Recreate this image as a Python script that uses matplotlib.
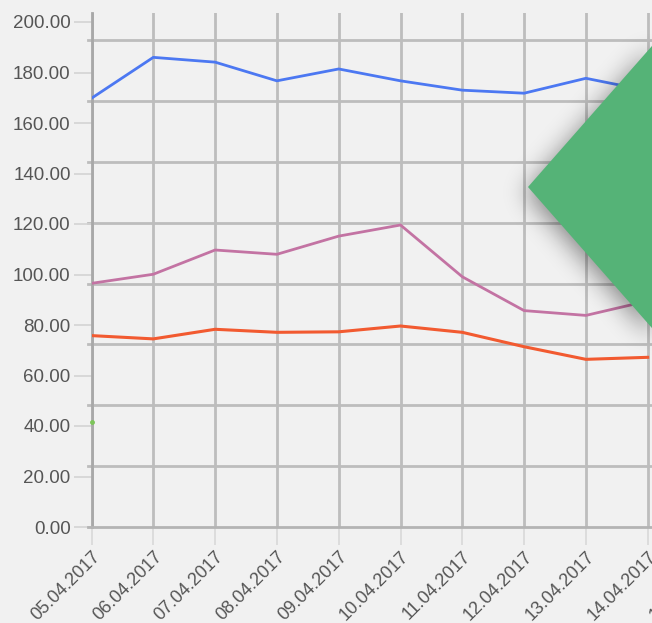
import matplotlib
matplotlib.use("Agg")
import matplotlib.pyplot as plt
from matplotlib.patches import Polygon
import numpy as np

# values
DATES = ["05.04.2017", "06.04.2017", "07.04.2017", "08.04.2017", "09.04.2017",
         "10.04.2017", "11.04.2017", "12.04.2017", "13.04.2017", "14.04.2017",
         "15.04.2017"]
BLUE = [169.8, 186.0, 184.1, 176.7, 181.4, 176.7, 173.0, 171.8, 177.7, 172.8]
PINK = [96.5, 100.1, 109.7, 108.0, 115.2, 119.6, 99.1, 85.7, 83.8, 89.5]
RED = [75.8, 74.5, 78.3, 77.1, 77.3, 79.6, 77.1, 71.4, 66.4, 67.2]
GREEN = [41.6]
Y_TICKS = [0, 20, 40, 60, 80, 100, 120, 140, 160, 180, 200]
H_GRID = [24.1, 48.2, 72.3, 96.4, 120.5, 144.6, 168.7, 192.8]

BG = "#f1f1f1"
GRID = "#bdbdbd"
TEXT = "#555555"

W, H = 652, 623
fig = plt.figure(figsize=(W / 100, H / 100), dpi=100, facecolor=BG)

# axes placed in pixel terms, running past the right edge (chart is cropped)
left, bottom, top = 91.5, 527, 13
x_step = 61.8
n_vis = 10.2
ax = fig.add_axes([left / W, 1 - bottom / H, n_vis * x_step / W, (bottom - top) / H])
ax.set_facecolor(BG)
ax.set_xlim(0, n_vis)
ax.set_ylim(0, 200 * (bottom - top) / (bottom - 22))

xs = list(range(len(DATES)))

for y in H_GRID:
    ax.plot([-0.06, n_vis], [y, y], color=GRID, lw=2, clip_on=False, zorder=1)
for x in xs:
    ax.axvline(x, color=GRID, lw=2, zorder=1)

ax.plot(xs[:len(BLUE)], BLUE, color="#4c78f2", lw=2, zorder=3)
ax.plot(xs[:len(PINK)], PINK, color="#c373a3", lw=2, zorder=3)
ax.plot(xs[:len(RED)], RED, color="#f25a30", lw=2.2, zorder=3)
ax.plot(xs[:len(GREEN)], GREEN, "o", color="#7dc55a", ms=2.5, zorder=3, clip_on=False)

for s in ["top", "right"]:
    ax.spines[s].set_visible(False)
ax.spines["left"].set_color("#a8a8a8")
ax.spines["left"].set_linewidth(2)
ax.spines["bottom"].set_color("#b4b4b4")
ax.spines["bottom"].set_linewidth(2)
ax.spines["bottom"].set_bounds(-0.06, n_vis)

ax.set_yticks(Y_TICKS)
ax.set_yticklabels([f"{v:.2f}" for v in Y_TICKS])
ax.set_xticks(xs)
ax.set_xticklabels(DATES)
ax.tick_params(axis="y", length=13, width=1.2, color="#d4d4d4", pad=2,
               labelsize=13.5, labelcolor=TEXT)
ax.tick_params(axis="x", length=13, width=1.2, color="#d8d8d8", pad=2,
               labelsize=13, labelcolor=TEXT)
for lab in ax.get_yticklabels() + ax.get_xticklabels():
    lab.set_family("Liberation Sans")
for lab in ax.get_xticklabels():
    lab.set_rotation(45)
    lab.set_ha("right")
    lab.set_va("top")
    lab.set_rotation_mode("anchor")

# green diamond overlay, in figure pixel space
cx, cy, hw, hh = 528 + 160, 187, 160, 182

# soft shadow: blurred diamond mask drawn as an image under the diamond
yy, xx = np.mgrid[0:H, 0:W].astype(float)
sx, sy = -3, 5
mask = (np.abs(xx - cx - sx) / hw + np.abs(yy - cy - sy) / hh <= 1).astype(float)
sig = 12
kx = np.arange(-3 * sig, 3 * sig + 1)
kern = np.exp(-0.5 * (kx / sig) ** 2)
kern /= kern.sum()
blur = np.apply_along_axis(lambda r: np.convolve(r, kern, mode="same"), 1, mask)
blur = np.apply_along_axis(lambda c: np.convolve(c, kern, mode="same"), 0, blur)
shadow = np.zeros((H, W, 4))
shadow[..., 3] = blur * 0.45
fig.figimage(shadow, xo=0, yo=0, origin="upper", zorder=10)


def px(x, y):
    return (x / W, 1 - y / H)


diamond = [px(cx - hw, cy), px(cx, cy - hh), px(cx + hw, cy), px(cx, cy + hh)]
fig.add_artist(Polygon(diamond, closed=True, facecolor="#55b377", edgecolor="none",
                       zorder=11))

fig.savefig("out.png", dpi=100, facecolor=BG)
